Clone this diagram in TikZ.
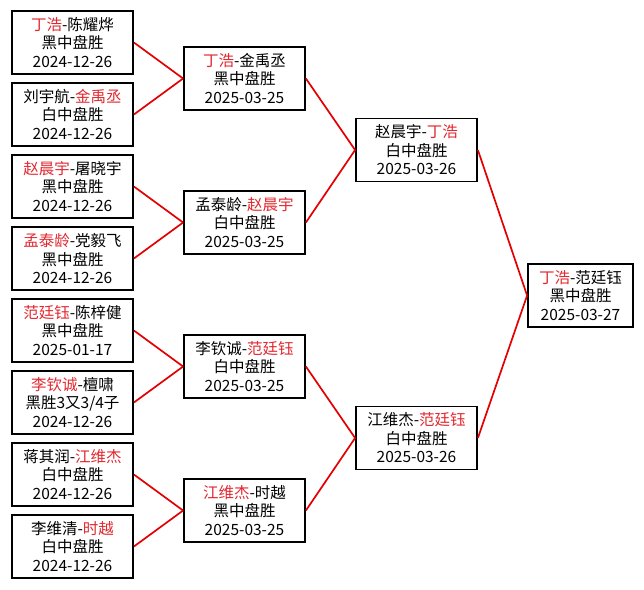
\documentclass[tikz,border=0pt]{standalone}
\usepackage{fontspec}
\setmainfont{Noto Sans CJK SC}
\usepackage{tikz}

\definecolor{winred}{RGB}{226,40,48}
\definecolor{linkred}{RGB}{228,0,0}
\newcommand{\win}[1]{\textcolor{winred}{#1}}

\begin{document}
\begin{tikzpicture}[x=1pt, y=-1pt,
    matchbox/.style={draw, line width=1.8pt, minimum width=121pt, minimum height=63pt,
      inner sep=1pt, align=center, font=\fontsize{15.5}{18.5}\selectfont},
    link/.style={draw=linkred, line width=1.7pt}]
  % canvas (644 x 589)
  \useasboundingbox[fill=white] (0,0) rectangle (644,589);

  % round 1
  \node[matchbox] (r1a) at (72.5,42.5)  {\win{丁浩}-陈耀烨\\黑中盘胜\\2024-12-26};
  \node[matchbox] (r1b) at (72.5,114.5) {刘宇航-\win{金禹丞}\\白中盘胜\\2024-12-26};
  \node[matchbox] (r1c) at (72.5,186.5) {\win{赵晨宇}-屠晓宇\\黑中盘胜\\2024-12-26};
  \node[matchbox] (r1d) at (72.5,258.5) {\win{孟泰龄}-党毅飞\\黑中盘胜\\2024-12-26};
  \node[matchbox] (r1e) at (72.5,330.5) {\win{范廷钰}-陈梓健\\黑中盘胜\\2025-01-17};
  \node[matchbox] (r1f) at (72.5,402.5) {\win{李钦诚}-檀啸\\黑胜3又3/4子\\2024-12-26};
  \node[matchbox] (r1g) at (72.5,474.5) {蒋其润-\win{江维杰}\\白中盘胜\\2024-12-26};
  \node[matchbox] (r1h) at (72.5,546.5) {李维清-\win{时越}\\白中盘胜\\2024-12-26};

  % round 2
  \node[matchbox] (r2a) at (244.5,78.5)  {\win{丁浩}-金禹丞\\黑中盘胜\\2025-03-25};
  \node[matchbox] (r2b) at (244.5,222.5) {孟泰龄-\win{赵晨宇}\\白中盘胜\\2025-03-25};
  \node[matchbox] (r2c) at (244.5,366.5) {李钦诚-\win{范廷钰}\\白中盘胜\\2025-03-25};
  \node[matchbox] (r2d) at (244.5,510.5) {\win{江维杰}-时越\\黑中盘胜\\2025-03-25};

  % semi-finals
  \node[matchbox] (r3a) at (416.5,150) {赵晨宇-\win{丁浩}\\白中盘胜\\2025-03-26};
  \node[matchbox] (r3b) at (416.5,438) {江维杰-\win{范廷钰}\\白中盘胜\\2025-03-26};

  % final
  \node[matchbox, minimum width=105pt] (fin) at (580.5,295.5) {\win{丁浩}-范廷钰\\黑中盘胜\\2025-03-27};

  % connectors
  \foreach \a/\b in {r1a/r2a, r1b/r2a, r1c/r2b, r1d/r2b, r1e/r2c, r1f/r2c, r1g/r2d, r1h/r2d,
                     r2a/r3a, r2b/r3a, r2c/r3b, r2d/r3b, r3a/fin, r3b/fin}
    \draw[link] (\a.east) -- (\b.west);
\end{tikzpicture}
\end{document}
